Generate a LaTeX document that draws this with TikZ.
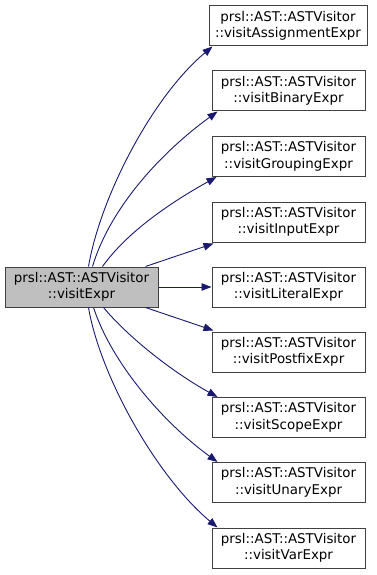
\documentclass[tikz,border=0pt]{standalone}
\usepackage{fontspec}
\setmainfont{DejaVu Sans}
\usetikzlibrary{arrows.meta}
\definecolor{edgeblue}{HTML}{191970}
\definecolor{boxline}{HTML}{404040}
\definecolor{boxgray}{HTML}{BFBFBF}
\begin{document}
\begin{tikzpicture}[x=1pt,y=-1pt,
  fn/.style={draw=boxline,line width=1pt,fill=white,minimum width=153pt,minimum height=40pt,
    inner sep=0pt,align=center,font=\fontsize{13.4}{16.5}\selectfont},
  caller/.style={fn,fill=boxgray},
  call/.style={draw=edgeblue,line width=0.9pt,-{Triangle[length=10pt,width=7.5pt,fill=edgeblue]}}]
\useasboundingbox (0,0) rectangle (376,575);

% the function being documented
\node[caller] (src) at (81.5,287) {prsl::AST::ASTVisitor\\::visitExpr};

% the visitor methods it calls
\node[fn,minimum width=158pt] (assign) at (288,26) {prsl::AST::ASTVisitor\\::visitAssignmentExpr};
\node[fn] (binary)   at (288.5,91)    {prsl::AST::ASTVisitor\\::visitBinaryExpr};
\node[fn] (grouping) at (288.5,156.5) {prsl::AST::ASTVisitor\\::visitGroupingExpr};
\node[fn] (input)    at (288.5,222)   {prsl::AST::ASTVisitor\\::visitInputExpr};
\node[fn] (literal)  at (288.5,287)   {prsl::AST::ASTVisitor\\::visitLiteralExpr};
\node[fn] (postfix)  at (288.5,352)   {prsl::AST::ASTVisitor\\::visitPostfixExpr};
\node[fn] (scope)    at (288.5,417.5) {prsl::AST::ASTVisitor\\::visitScopeExpr};
\node[fn] (unary)    at (288.5,482.5) {prsl::AST::ASTVisitor\\::visitUnaryExpr};
\node[fn] (var)      at (288.5,548)   {prsl::AST::ASTVisitor\\::visitVarExpr};

% call edges
\draw[call] (src.north west) ++(84,0) .. controls +(12,-70) and +(-60,50) .. ([xshift=4pt]assign.south west);
\draw[call] (src.north west) ++(88,0) .. controls +(18,-60) and +(-55,40) .. ([xshift=6pt]binary.south west);
\draw[call] (src.north west) ++(98,0) .. controls +(25,-35) and +(-45,25) .. ([xshift=5pt]grouping.south west);
\draw[call] (src.north west) ++(141,0) -- ([xshift=2pt,yshift=-1pt]input.south west);
\draw[call] (src.east) -- (literal.west);
\draw[call] (src.south west) ++(141,0) -- ([xshift=2pt,yshift=1pt]postfix.north west);
\draw[call] (src.south west) ++(99,0) .. controls +(25,30) and +(-45,-25) .. ([xshift=6pt]scope.north west);
\draw[call] (src.south west) ++(89,0) .. controls +(18,55) and +(-55,-40) .. ([xshift=6pt]unary.north west);
\draw[call] (src.south west) ++(84,0) .. controls +(12,70) and +(-60,-50) .. ([xshift=6pt]var.north west);
\end{tikzpicture}
\end{document}
